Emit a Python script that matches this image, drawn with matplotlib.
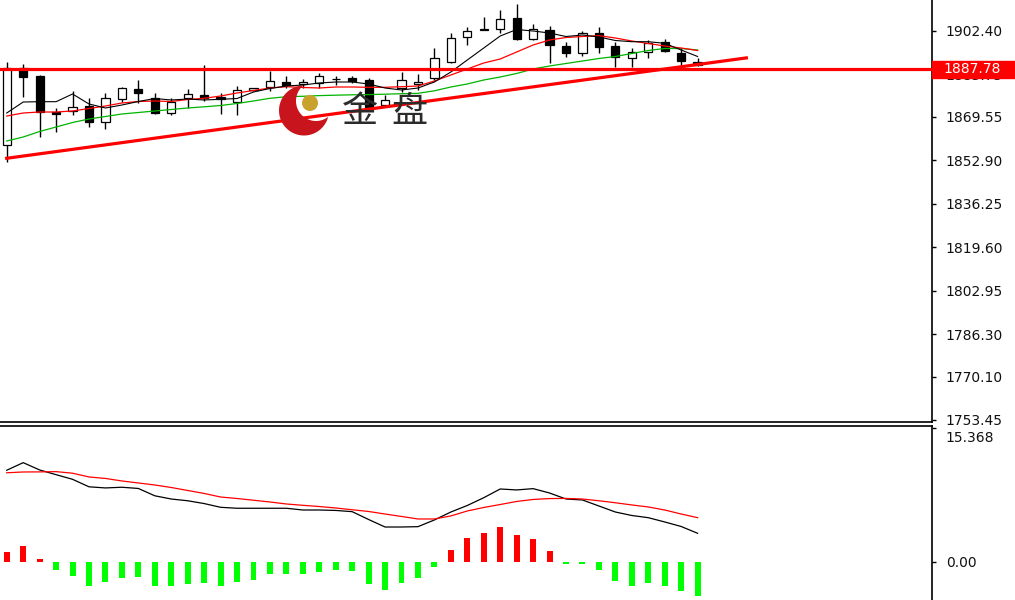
import numpy as np
import matplotlib
matplotlib.use("Agg")
import matplotlib.pyplot as plt
from matplotlib.patches import Rectangle, Circle, Polygon

# candles (oldest first)
opens = [1858.75, 1888.23, 1885.28, 1871.27, 1871.88, 1873.68, 1867.67, 1876.36, 1880.19, 1876.63,
         1870.89, 1876.63, 1877.89, 1877.01, 1875.33, 1879.69, 1880.84, 1882.99, 1882.11, 1882.37,
         1883.91, 1884.52, 1883.64, 1874.06, 1880.46, 1882.11, 1884.29, 1890.64, 1899.99, 1902.86,
         1903.05, 1907.26, 1899.22, 1902.78, 1896.66, 1893.86, 1901.52, 1896.77, 1891.95, 1894.24,
         1898.07, 1893.86, 1890.64]
highs = [1890.53, 1889.76, 1885.55, 1872.80, 1879.43, 1876.63, 1878.54, 1881.07, 1883.64, 1878.54,
         1876.86, 1880.08, 1889.38, 1878.77, 1881.45, 1880.69, 1887.08, 1885.17, 1884.21, 1886.20,
         1885.28, 1885.17, 1884.40, 1877.89, 1886.82, 1885.93, 1895.78, 1901.52, 1904.05, 1907.65,
         1910.44, 1912.74, 1905.08, 1904.31, 1898.30, 1902.51, 1903.82, 1898.07, 1895.78, 1898.95,
         1899.34, 1895.78, 1892.06]
lows = [1852.24, 1877.13, 1861.93, 1863.61, 1870.24, 1865.76, 1864.87, 1875.33, 1874.95, 1870.62,
        1870.24, 1873.03, 1875.60, 1870.50, 1870.24, 1879.43, 1879.43, 1880.46, 1880.57, 1880.46,
        1881.72, 1882.49, 1872.92, 1873.68, 1879.04, 1879.81, 1883.64, 1890.26, 1897.04, 1902.67,
        1901.52, 1898.95, 1898.95, 1890.26, 1892.56, 1892.83, 1893.86, 1888.73, 1888.73, 1891.95,
        1894.36, 1889.11, 1889.00]
closes = [1888.23, 1884.79, 1871.27, 1870.50, 1873.41, 1867.67, 1876.86, 1880.46, 1878.54, 1870.89,
          1875.33, 1878.16, 1876.86, 1876.25, 1879.81, 1880.46, 1883.25, 1881.72, 1882.87, 1885.28,
          1884.14, 1883.25, 1873.41, 1875.98, 1883.64, 1882.99, 1891.95, 1899.60, 1902.51, 1903.05,
          1906.88, 1899.22, 1903.05, 1897.04, 1894.09, 1901.75, 1896.39, 1892.56, 1894.24, 1897.69,
          1894.74, 1890.91, 1889.38]

# moving averages: black, red, green
ma_fast = [1871.00, 1875.21, 1875.33, 1875.33, 1878.28, 1874.45, 1872.92, 1874.06, 1875.40, 1876.55,
           1875.98, 1876.36, 1875.98, 1876.25, 1876.55, 1879.04, 1880.38, 1881.34, 1881.72, 1882.49,
           1882.87, 1882.87, 1882.11, 1880.57, 1879.81, 1880.57, 1882.87, 1886.70, 1891.30, 1895.89,
           1900.49, 1902.97, 1902.40, 1901.63, 1900.29, 1900.87, 1900.10, 1898.76, 1898.30, 1898.30,
           1897.69, 1895.12, 1892.64]
ma_mid = [1869.85, 1871.00, 1871.38, 1871.38, 1871.77, 1872.72, 1873.68, 1874.83, 1875.40, 1875.60,
          1875.40, 1876.17, 1876.63, 1877.51, 1878.66, 1879.62, 1880.57, 1881.07, 1880.77, 1880.57,
          1880.96, 1880.96, 1880.84, 1880.84, 1881.07, 1881.34, 1883.25, 1885.55, 1887.85, 1890.15,
          1891.68, 1894.36, 1897.04, 1898.95, 1899.91, 1900.29, 1900.60, 1899.72, 1898.57, 1897.61,
          1896.66, 1895.89, 1894.93]
ma_slow = [1860.28, 1861.81, 1863.92, 1865.64, 1867.36, 1868.70, 1869.66, 1870.62, 1871.19, 1871.77,
           1872.34, 1872.92, 1873.38, 1873.87, 1874.64, 1875.60, 1876.63, 1877.24, 1877.40, 1877.66,
           1877.82, 1877.97, 1878.05, 1878.20, 1878.39, 1878.54, 1879.50, 1880.96, 1882.11, 1883.64,
           1884.79, 1886.13, 1887.85, 1889.00, 1889.96, 1890.91, 1891.87, 1892.64, 1893.78, 1894.93,
           1895.70, 1895.70, 1895.12]

hline_level = 1887.78
trend_x = [-0.1, 45.06]
trend_y = [1853.58, 1892.18]

price_ticks = [1902.40, 1885.75, 1869.55, 1852.90, 1836.25, 1819.60, 1802.95, 1786.30, 1770.10, 1753.45]

# MACD panel
macd_hist = [1.18, 1.84, 0.30, -0.92, -1.57, -2.72, -2.33, -1.83, -1.68, -2.75,
             -2.72, -2.52, -2.45, -2.72, -2.33, -2.03, -1.41, -1.41, -1.41, -1.11,
             -0.92, -1.03, -2.56, -3.21, -2.45, -1.83, -0.54, 1.41, 2.79, 3.36,
             3.98, 3.06, 2.64, 1.26, -0.20, -0.20, -0.92, -2.14, -2.72, -2.45,
             -2.72, -3.36, -3.90]
macd_main = [10.52, 11.39, 10.55, 10.01, 9.48, 8.62, 8.49, 8.57, 8.43, 7.59,
             7.22, 7.02, 6.70, 6.27, 6.16, 6.16, 6.16, 6.16, 5.96, 5.96,
             5.91, 5.77, 4.87, 4.01, 4.01, 4.05, 4.82, 5.73, 6.48, 7.37,
             8.37, 8.26, 8.41, 7.91, 7.22, 7.11, 6.42, 5.73, 5.33, 5.08,
             4.59, 4.07, 3.29]
macd_signal = [10.23, 10.32, 10.33, 10.36, 10.18, 9.75, 9.58, 9.29, 9.06, 8.83,
               8.54, 8.20, 7.86, 7.45, 7.28, 7.08, 6.88, 6.65, 6.50, 6.36,
               6.19, 5.99, 5.79, 5.50, 5.22, 4.93, 4.93, 5.28, 5.85, 6.25,
               6.59, 6.94, 7.17, 7.27, 7.29, 7.22, 7.02, 6.79, 6.54, 6.31,
               5.96, 5.50, 5.08]
macd_top = 15.368

W, H = 1015, 600
LABEL_FONT = dict(fontsize=10, color="#111111")


def crescent(c1, r1, c2, r2, n=300):
    # outer circle minus the offset inner circle
    phi = np.arctan2(c2[1] - c1[1], c2[0] - c1[0])
    t = phi + np.linspace(0, 2 * np.pi, n)
    outer = np.c_[c1[0] + r1 * np.cos(t), c1[1] + r1 * np.sin(t)]
    outer = outer[np.hypot(outer[:, 0] - c2[0], outer[:, 1] - c2[1]) > r2]
    inner = np.c_[c2[0] + r2 * np.cos(t), c2[1] + r2 * np.sin(t)]
    inner = inner[np.hypot(inner[:, 0] - c1[0], inner[:, 1] - c1[1]) < r1]
    return np.vstack([outer, inner[::-1]])


fig = plt.figure(figsize=(W / 100, H / 100), dpi=100)
right = 932 / W
ax = fig.add_axes([0, 1 - 422 / H, right, 422 / H])
ax2 = fig.add_axes([0, 0, right, (H - 425.5) / H], sharex=ax)

x = np.arange(len(opens))
o, c = np.array(opens), np.array(closes)
up = c >= o

# candles
ax.vlines(x, lows, highs, color="black", lw=1, zorder=2)
ax.bar(x[up], (c - o)[up], bottom=o[up], width=0.5, color="white", edgecolor="black", lw=0.9, zorder=3)
ax.bar(x[~up], (o - c)[~up], bottom=c[~up], width=0.5, color="black", edgecolor="black", lw=0.9, zorder=3)

ax.plot(x, ma_slow, color="#00b400", lw=0.9, zorder=4)
ax.plot(x, ma_mid, color="#ff0000", lw=0.9, zorder=4)
ax.plot(x, ma_fast, color="black", lw=0.8, zorder=4)

ax.axhline(hline_level, color="#ff0000", lw=2.3, zorder=5)
ax.plot(trend_x, trend_y, color="#ff0000", lw=2.3, zorder=5, solid_capstyle="butt")

ax.set_xlim(-0.41, 56.25)
ax.set_ylim(1752.68, 1914.27)
ax.set_yticks(price_ticks)
ax.set_yticklabels([f"{v:.2f}" for v in price_ticks], **LABEL_FONT)
ax.yaxis.tick_right()
ax.tick_params(axis="y", direction="out", length=3, width=1, pad=7)
ax.tick_params(axis="x", bottom=False, labelbottom=False)
for s in ["left", "top"]:
    ax.spines[s].set_visible(False)
ax.spines["right"].set_linewidth(1.2)
ax.spines["bottom"].set_linewidth(1.2)

# current price box
ax.add_patch(Rectangle((1.0, hline_level - 3.2), 0.09, 6.4, transform=ax.get_yaxis_transform(),
                       color="#ff0000", clip_on=False, zorder=10))
ax.text(1.012, hline_level, f"{hline_level:.2f}", transform=ax.get_yaxis_transform(),
        color="white", fontsize=10, va="center", ha="left", zorder=11, clip_on=False)

# MACD
hist = np.array(macd_hist)
colors = np.where(hist >= 0, "#ff0000", "#00ff00")
ax2.bar(x, hist, width=0.36, color=colors, zorder=2)
ax2.plot(x, macd_main, color="black", lw=0.9, zorder=3)
ax2.plot(x, macd_signal, color="#ff0000", lw=0.9, zorder=3)
ax2.set_ylim(-4.36, 15.65)
ax2.set_yticks([0, macd_top])
ax2.set_yticklabels(["0.00", ""], **LABEL_FONT)
ax2.yaxis.tick_right()
ax2.tick_params(axis="y", direction="out", length=3, width=1, pad=7)
ax2.tick_params(axis="x", bottom=False, labelbottom=False)
# top value label hangs below its tick, as in the terminal
ax2.annotate(f"{macd_top:.3f}", xy=(1.0, macd_top), xycoords=ax2.get_yaxis_transform(),
             xytext=(10, -2), textcoords="offset points", va="top", ha="left",
             annotation_clip=False, **LABEL_FONT)
for s in ["left", "bottom"]:
    ax2.spines[s].set_visible(False)
ax2.spines["right"].set_linewidth(1.2)
ax2.spines["top"].set_linewidth(1.2)

# watermark logo on top, in pixel coordinates
ov = fig.add_axes([0, 0, 1, 1], facecolor="none")
ov.set_xlim(0, W)
ov.set_ylim(H, 0)
ov.axis("off")
ov.add_patch(Polygon(crescent((304, 110.5), 25, (316, 101), 20), closed=True,
                     facecolor="#c8141c", edgecolor="none", zorder=20))
ov.add_patch(Circle((310, 103), 8, facecolor="#c9a22e", edgecolor="none", zorder=21))
ov.text(360, 112, "金", fontsize=26, family=["Noto Sans CJK SC"], color="#2b2b2b",
        ha="center", va="center", zorder=22)
ov.text(409, 112, "盘", fontsize=26, family=["Noto Sans CJK SC"], color="#2b2b2b",
        ha="center", va="center", zorder=22)

fig.savefig("out.png", dpi=100)
